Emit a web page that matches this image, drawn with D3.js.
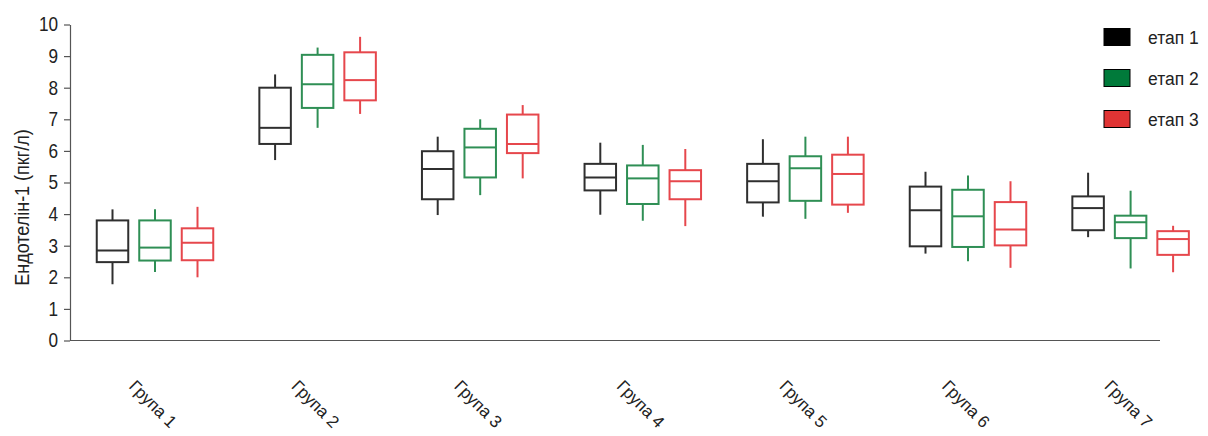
<!DOCTYPE html>
<html>
<head>
<meta charset="utf-8">
<script src="https://cdn.jsdelivr.net/npm/d3@7"></script>
<style>
  html, body { margin: 0; padding: 0; background: #fff; }
  svg { display: block; font-family: "Liberation Sans", Arial, sans-serif; }
</style>
</head>
<body>
<svg id="chart" width="1208" height="436"></svg>
<script>
// Groups and stages
const groups = ["Група 1", "Група 2", "Група 3", "Група 4", "Група 5", "Група 6", "Група 7"];
const stages = ["етап 1", "етап 2", "етап 3"];
const yTicks = [0, 1, 2, 3, 4, 5, 6, 7, 8, 9, 10];

// Box statistics per stage, one entry per group: [min, q1, median, q3, max]
const stage1 = [
  [1.78, 2.48, 2.85, 3.80, 4.15],
  [5.71, 6.22, 6.73, 8.00, 8.42],
  [3.97, 4.47, 5.43, 5.99, 6.45],
  [3.98, 4.75, 5.16, 5.59, 6.26],
  [3.92, 4.37, 5.04, 5.59, 6.37],
  [2.75, 2.98, 4.12, 4.87, 5.34],
  [3.27, 3.49, 4.19, 4.56, 5.31]
];
const stage2 = [
  [2.17, 2.53, 2.94, 3.80, 4.15],
  [6.73, 7.36, 8.11, 9.04, 9.27],
  [4.60, 5.16, 6.11, 6.70, 7.00],
  [3.79, 4.32, 5.13, 5.54, 6.19],
  [3.85, 4.42, 5.45, 5.83, 6.45],
  [2.51, 2.96, 3.93, 4.77, 5.22],
  [2.28, 3.24, 3.74, 3.95, 4.74]
];
const stage3 = [
  [2.00, 2.54, 3.09, 3.55, 4.23],
  [7.17, 7.60, 8.24, 9.12, 9.61],
  [5.13, 5.93, 6.22, 7.15, 7.45],
  [3.62, 4.47, 5.04, 5.39, 6.06],
  [4.04, 4.30, 5.27, 5.88, 6.45],
  [2.30, 3.01, 3.51, 4.38, 5.04],
  [2.16, 2.71, 3.21, 3.46, 3.63]
];

const strokeColors = ["#2f2f2f", "#2f8f55", "#e6474c"];
const legendFills = ["#000000", "#007a3a", "#e03434"];
const squeeze = 0.86; // horizontal condensing of the narrow label face

const svg = d3.select("#chart");

const x = d3.scaleBand().domain(groups).range([73.7, 1211.9]).padding(0);
const inner = d3.scalePoint().domain(stages).range([-42.5, 42.5]);
const y = d3.scaleLinear().domain([0, 10]).range([340.5, 24.5]);
const boxW = 31.5;

// Y axis
const yAxis = svg.append("g")
  .attr("transform", "translate(70,0)")
  .call(d3.axisLeft(y).tickValues(yTicks).tickSize(6).tickSizeOuter(0).tickPadding(5));
yAxis.select(".domain").attr("stroke", "#555").attr("stroke-width", 1.2);
yAxis.selectAll(".tick line").attr("stroke", "#555").attr("stroke-width", 1.2);
yAxis.selectAll(".tick text")
  .attr("font-size", 20)
  .attr("fill", "#222")
  .attr("x", -12 / squeeze)
  .attr("transform", `scale(${squeeze},1)`);

// X baseline
svg.append("line")
  .attr("x1", 70).attr("x2", 1160)
  .attr("y1", y(0)).attr("y2", y(0))
  .attr("stroke", "#555").attr("stroke-width", 1.2);

// Y axis title
svg.append("text")
  .attr("transform", `translate(29,${(y(0) + y(10)) / 2 + 25}) rotate(-90) scale(${squeeze + 0.04},1)`)
  .attr("text-anchor", "middle")
  .attr("font-size", 20)
  .attr("fill", "#222")
  .text("Ендотелін-1 (пкг/л)");

// Group labels, rotated
svg.append("g").selectAll("text")
  .data(groups)
  .join("text")
  .attr("transform", d => `translate(${x(d) + x.bandwidth() / 2 - 3},405) rotate(45)`)
  .attr("text-anchor", "middle")
  .attr("dominant-baseline", "middle")
  .attr("font-size", 17)
  .attr("fill", "#222")
  .text(d => d);

// Box plots
const series = [stage1, stage2, stage3];
series.forEach((vals, si) => {
  const g = svg.append("g")
    .attr("stroke", strokeColors[si])
    .attr("stroke-width", 2)
    .attr("fill", "none");
  vals.forEach((v, gi) => {
    const cx = x(groups[gi]) + x.bandwidth() / 2 + inner(stages[si]);
    const [mn, q1, md, q3, mx] = v;
    g.append("line").attr("x1", cx).attr("x2", cx).attr("y1", y(mx)).attr("y2", y(q3));
    g.append("line").attr("x1", cx).attr("x2", cx).attr("y1", y(q1)).attr("y2", y(mn));
    g.append("rect")
      .attr("x", cx - boxW / 2).attr("y", y(q3))
      .attr("width", boxW).attr("height", y(q1) - y(q3));
    g.append("line")
      .attr("x1", cx - boxW / 2).attr("x2", cx + boxW / 2)
      .attr("y1", y(md)).attr("y2", y(md));
  });
});

// Legend
const legend = svg.append("g");
stages.forEach((s, i) => {
  const ly = 28.5 + i * 41;
  legend.append("rect")
    .attr("x", 1104).attr("y", ly)
    .attr("width", 26).attr("height", 17)
    .attr("fill", legendFills[i])
    .attr("stroke", "#000").attr("stroke-width", 1);
  legend.append("text")
    .attr("transform", `translate(1148,${ly + 9}) scale(0.92,1)`)
    .attr("dominant-baseline", "central")
    .attr("font-size", 19)
    .attr("fill", "#222")
    .text(s);
});
</script>
</body>
</html>
